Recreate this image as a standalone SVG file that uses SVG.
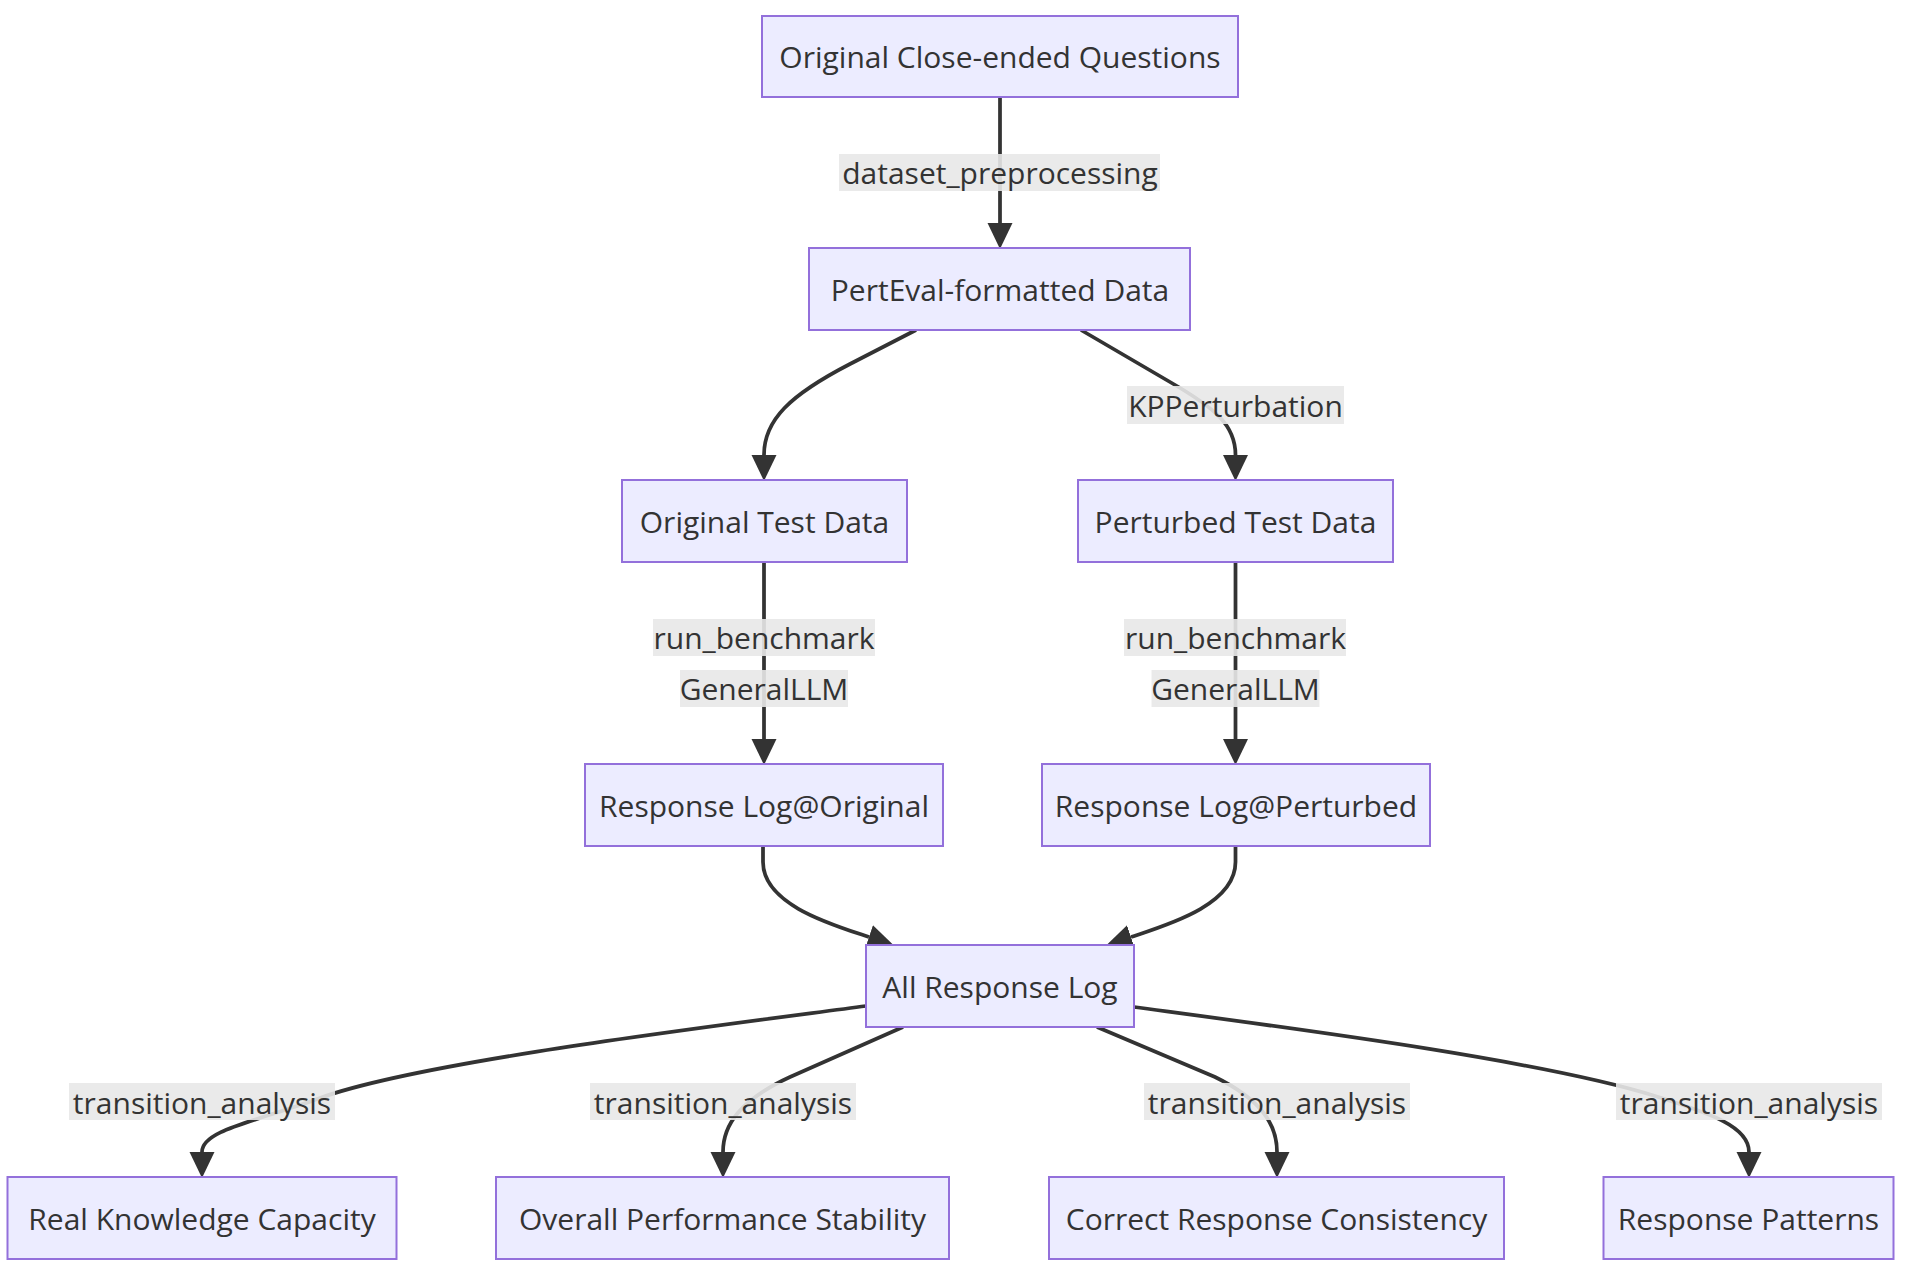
<svg xmlns="http://www.w3.org/2000/svg" width="1908" height="1270" viewBox="0 0 1908 1270">
<defs>
<style>
.node rect{fill:#ECECFF;stroke:#9370DB;stroke-width:2}
.node text,.elabel text{font-family:"Open Sans","Noto Sans","DejaVu Sans",sans-serif;font-size:30px;fill:#333;text-anchor:middle}
.edge{fill:none;stroke:#333;stroke-width:3.75}
.elabel rect{fill:#e8e8e8;fill-opacity:0.9}
</style>
<marker id="arr" markerUnits="userSpaceOnUse" markerWidth="26" markerHeight="26" viewBox="0 0 25 24" refX="0" refY="12" orient="auto">
<path d="M0,0 L25,12 L0,24 z" fill="#333"/>
</marker>
</defs>
<rect width="1908" height="1270" fill="#ffffff"/>
<g id="edges">
<path class="edge" d="M1000,97 L1000,223" marker-end="url(#arr)"/>
<path class="edge" d="M916,330 L850,364 C790,395 764,420 764,455" marker-end="url(#arr)"/>
<path class="edge" d="M1081,330 L1170,382 C1215,408 1235.5,425 1235.5,455" marker-end="url(#arr)"/>
<path class="edge" d="M764,562 L764,739" marker-end="url(#arr)"/>
<path class="edge" d="M1235.5,562 L1235.5,739" marker-end="url(#arr)"/>
<path class="edge" d="M763,846 L763,862 C763,905 833,925 869,937" marker-end="url(#arr)"/>
<path class="edge" d="M1235.5,846 L1235.5,862 C1235.5,905 1167,925 1131,937" marker-end="url(#arr)"/>
<path class="edge" d="M866,1006 C700,1028 420,1062 320,1098 C255,1122 202,1130 202,1152" marker-end="url(#arr)"/>
<path class="edge" d="M903,1027 L790,1077 C740,1100 723,1125 723,1152" marker-end="url(#arr)"/>
<path class="edge" d="M1097,1027 L1215,1077 C1262,1100 1277,1125 1277,1152" marker-end="url(#arr)"/>
<path class="edge" d="M1134,1007 C1290,1028 1540,1060 1655,1096 C1705,1112 1749,1125 1749,1152" marker-end="url(#arr)"/>
</g>
<g id="edge-labels">
<g class="elabel"><rect x="839" y="154" width="321" height="37"/><text x="1000" y="184">dataset_preprocessing</text></g>
<g class="elabel"><rect x="1127" y="386" width="217" height="38"/><text x="1235.5" y="416.5">KPPerturbation</text></g>
<g class="elabel"><rect x="653" y="619" width="222" height="37"/><text x="764" y="649">run_benchmark</text></g>
<g class="elabel"><rect x="680" y="670" width="168" height="37"/><text x="764" y="700">GeneralLLM</text></g>
<g class="elabel"><rect x="1124" y="619" width="222" height="37"/><text x="1235.5" y="649">run_benchmark</text></g>
<g class="elabel"><rect x="1151.5" y="670" width="168" height="37"/><text x="1235.5" y="700">GeneralLLM</text></g>
<g class="elabel"><rect x="69" y="1083" width="266" height="37"/><text x="202" y="1113.5">transition_analysis</text></g>
<g class="elabel"><rect x="590" y="1083" width="266" height="37"/><text x="723" y="1113.5">transition_analysis</text></g>
<g class="elabel"><rect x="1144" y="1083" width="266" height="37"/><text x="1277" y="1113.5">transition_analysis</text></g>
<g class="elabel"><rect x="1616" y="1083" width="266" height="37"/><text x="1749" y="1113.5">transition_analysis</text></g>
</g>
<g id="node-A" class="node"><rect x="762" y="16" width="476" height="81"/><text x="1000" y="68">Original Close-ended Questions</text></g>
<g id="node-B" class="node"><rect x="809" y="248" width="381" height="82"/><text x="1000" y="300.5">PertEval-formatted Data</text></g>
<g id="node-C" class="node"><rect x="622" y="480" width="285" height="82"/><text x="764.5" y="532.5">Original Test Data</text></g>
<g id="node-D" class="node"><rect x="1078" y="480" width="315" height="82"/><text x="1235.5" y="532.5">Perturbed Test Data</text></g>
<g id="node-E" class="node"><rect x="585" y="764" width="358" height="82"/><text x="764" y="816.5">Response Log@Original</text></g>
<g id="node-F" class="node"><rect x="1042" y="764" width="388" height="82"/><text x="1236" y="816.5">Response Log@Perturbed</text></g>
<g id="node-G" class="node"><rect x="866" y="945" width="268" height="82"/><text x="1000" y="997.5">All Response Log</text></g>
<g id="node-H" class="node"><rect x="7.5" y="1177" width="389" height="82"/><text x="202" y="1229.5">Real Knowledge Capacity</text></g>
<g id="node-I" class="node"><rect x="496" y="1177" width="453" height="82"/><text x="722.5" y="1229.5">Overall Performance Stability</text></g>
<g id="node-J" class="node"><rect x="1049" y="1177" width="455" height="82"/><text x="1276.5" y="1229.5">Correct Response Consistency</text></g>
<g id="node-K" class="node"><rect x="1603.5" y="1177" width="290" height="82"/><text x="1748.5" y="1229.5">Response Patterns</text></g>
</svg>
